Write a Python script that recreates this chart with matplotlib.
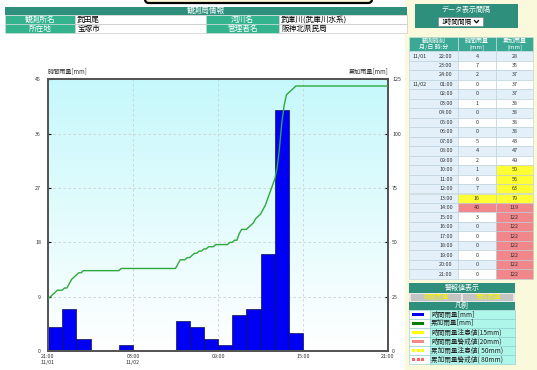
import numpy as np
import matplotlib
matplotlib.use('Agg')
import matplotlib.pyplot as plt
from matplotlib.patches import Rectangle, FancyBboxPatch
from matplotlib.colors import to_rgb

plt.rcParams['font.family'] = ['Noto Sans CJK JP', 'DejaVu Sans']

# 観測局情報
station = '武田尾'
place = '宝塚市'
river = '武庫川(武庫川水系)'
manager = '阪神北県民局'

# 1時間毎の観測値 (11/01 22:00 ～ 11/02 21:00)
times = ['22:00', '23:00', '24:00', '01:00', '02:00', '03:00', '04:00', '05:00',
         '06:00', '07:00', '08:00', '09:00', '10:00', '11:00', '12:00', '13:00',
         '14:00', '15:00', '16:00', '17:00', '18:00', '19:00', '20:00', '21:00']
dates = {0: '11/01', 3: '11/02'}
hourly = [4, 7, 2, 0, 0, 1, 0, 0, 0, 5, 4, 2, 1, 6, 7, 16, 40, 3, 0, 0, 0, 0, 0, 0]
cumul = [28, 35, 37, 37, 37, 38, 38, 38, 38, 43, 47, 49, 50, 56, 63, 79, 119,
         122, 122, 122, 122, 122, 122, 122]

# 10分毎の累加雨量 (11/01 21:00 ～ 11/02 21:00)
cum10 = [
    24, 25, 26, 27, 28, 28,        # 21時台
    28, 29, 29, 31, 33, 34,        # 22時台
    35, 36, 36, 37, 37, 37,        # 23時台
    37, 37, 37, 37, 37, 37,        # 00時台
    37, 37, 37, 37, 37, 37,        # 01時台
    37, 38, 38, 38, 38, 38,        # 02時台
    38, 38, 38, 38, 38, 38,        # 03時台
    38, 38, 38, 38, 38, 38,        # 04時台
    38, 38, 38, 38, 38, 38,        # 05時台
    38, 40, 42, 42, 42, 43,        # 06時台
    43, 44, 45, 45, 46, 46,        # 07時台
    47, 47, 48, 48, 48, 49,        # 08時台
    49, 49, 49, 49, 49, 50,        # 09時台
    50, 51, 51, 54, 56, 56,        # 10時台
    56, 57, 58, 59, 61, 62,        # 11時台
    63, 65, 67, 70, 73, 76,        # 12時台
    79, 84, 93, 105, 113, 118,     # 13時台
    119, 120, 121, 122, 122, 122,  # 14時台
    122, 122, 122, 122, 122, 122,  # 15時台
    122, 122, 122, 122, 122, 122,  # 16時台
    122, 122, 122, 122, 122, 122,  # 17時台
    122, 122, 122, 122, 122, 122,  # 18時台
    122, 122, 122, 122, 122, 122,  # 19時台
    122, 122, 122, 122, 122, 122,  # 20時台
    122,                           # 21:00
]

hour_warn = (15, 20)
cum_warn = (50, 80)
xtick_labels = ['21:00\n11/01', '03:00\n11/02', '09:00', '15:00', '21:00']
legend_items = ['時間雨量[mm]', '累加雨量[mm]', '時間雨量注意値(15mm)',
                '時間雨量警戒値(20mm)', '累加雨量注意値( 50mm)', '累加雨量警戒値( 80mm)']

W, H = 537, 370
TEAL_D = '#2f8f7d'
TEAL_L = '#33b48f'
TEAL_T = '#3aa894'
ROW_BLUE = '#e3f0f9'
YEL = '#ffff33'
PINK = '#f2878b'

fig = plt.figure(figsize=(W / 100, H / 100), dpi=100)
fig.patch.set_facecolor('white')

bg = fig.add_axes([0, 0, 1, 1], zorder=0)
bg.set_xlim(0, W)
bg.set_ylim(H, 0)
bg.axis('off')


def cell(x0, y0, x1, y1, fc, text='', color='white', size=5.0, ha='center',
         ec='none', lw=0.4, pad=2):
    bg.add_patch(Rectangle((x0, y0), x1 - x0, y1 - y0, facecolor=fc,
                           edgecolor=ec, linewidth=lw))
    if text:
        tx = {'center': (x0 + x1) / 2, 'left': x0 + pad, 'right': x1 - pad}[ha]
        bg.text(tx, (y0 + y1) / 2, text, ha=ha, va='center', color=color,
                fontsize=size, linespacing=1.0)


# 右側パネル
bg.add_patch(Rectangle((405, 0), W - 405, H, facecolor='#fbf9dc', edgecolor='none'))
bg.add_patch(FancyBboxPatch((145, -12), 227, 15, boxstyle='round,pad=0,rounding_size=4',
                            facecolor='#fbf6d6', edgecolor='black', linewidth=1.6))

# 観測局情報テーブル
cell(5, 7, 407, 15, TEAL_D, '観測局情報', size=5.5)
cell(5, 15, 75, 24, TEAL_L, '観測所名', size=5.5, ec='#dddddd')
cell(75, 15, 206, 24, 'white', station, color='black', size=5.5, ha='left', ec='#bbbbbb')
cell(206, 15, 279, 24, TEAL_L, '河川名', size=5.5, ec='#dddddd')
cell(279, 15, 407, 24, 'white', river, color='black', size=5.5, ha='left', ec='#bbbbbb')
cell(5, 24, 75, 33, TEAL_L, '所在地', size=5.5, ec='#dddddd')
cell(75, 24, 206, 33, 'white', place, color='black', size=5.5, ha='left', ec='#bbbbbb')
cell(206, 24, 279, 33, TEAL_L, '管理者名', size=5.5, ec='#dddddd')
cell(279, 24, 407, 33, 'white', manager, color='black', size=5.5, ha='left', ec='#bbbbbb')

# データ表示間隔
cell(415, 4, 518, 28, TEAL_D)
bg.text(466, 10, 'データ表示間隔', ha='center', va='center', color='white', fontsize=5)
cell(438, 17, 483, 26, 'white', '1時間間隔', color='black', size=4.8, ha='left', ec='#777777', pad=3)
bg.plot([474.5, 476.5, 478.5], [20.5, 22.8, 20.5], color='black', lw=0.9)

# 観測値テーブル
cols = [409, 458, 496, 533]
ty0, ty1, rh = 37, 51.3, 9.48
cell(cols[0], ty0, cols[1], ty1, TEAL_T, '観測時刻\n月/日 時:分', size=4.3, ec='#cfe3e0')
cell(cols[1], ty0, cols[2], ty1, TEAL_T, '時間雨量\n[mm]', size=4.3, ec='#cfe3e0')
cell(cols[2], ty0, cols[3], ty1, TEAL_T, '累加雨量\n[mm]', size=4.3, ec='#cfe3e0')
for i, t in enumerate(times):
    y0 = ty1 + i * rh
    y1 = y0 + rh
    alt = ROW_BLUE if i % 2 == 0 else 'white'
    cell(cols[0], y0, cols[1], y1, ROW_BLUE, ec='#b8cfdc')
    if i in dates:
        bg.text(413, (y0 + y1) / 2, dates[i], ha='left', va='center', fontsize=3.9, color='#333333')
    bg.text(446, (y0 + y1) / 2, t, ha='center', va='center', fontsize=3.9, color='#333333')
    h = hourly[i]
    hc = PINK if h >= hour_warn[1] else (YEL if h >= hour_warn[0] else alt)
    cell(cols[1], y0, cols[2], y1, hc, str(h), color='#333333', size=3.9, ec='#b8cfdc')
    c = cumul[i]
    cc = PINK if c >= cum_warn[1] else (YEL if c >= cum_warn[0] else alt)
    cell(cols[2], y0, cols[3], y1, cc, str(c), color='#333333', size=3.9, ec='#b8cfdc')

# 警報値表示・凡例
cell(409, 283, 515, 293, TEAL_D, '警報値表示', size=5)
cell(409, 293, 515, 302, '#e8e8e8')
cell(411, 294, 461, 301, '#c4c4c4', '時間雨量', color='#f2f200', size=4.6)
cell(463, 294, 513, 301, '#c4c4c4', '累加雨量', color='#f2f200', size=4.6)
cell(409, 302, 515, 310, TEAL_D, '凡例', size=5)
icon_colors = ['#0000ee', '#008000', '#ffff00', '#f28a8a', '#ffff00', '#ff6464']
for i, (lab, col) in enumerate(zip(legend_items, icon_colors)):
    y0 = 310 + i * 9
    cell(409, y0, 430, y0 + 9, 'white', ec='#88cccc')
    cell(430, y0, 515, y0 + 9, '#aef5ea', lab, color='#222222', size=4.8, ha='left', ec='#88cccc', pad=1)
    if i < 4:
        bg.add_patch(Rectangle((412, y0 + 3), 12, 3, facecolor=col, edgecolor='none'))
    else:
        for k in range(3):
            bg.add_patch(Rectangle((412 + k * 4.5, y0 + 3), 3, 3, facecolor=col, edgecolor='none'))

# グラフ
ax = fig.add_axes([48 / W, (H - 351) / H, 340 / W, (351 - 79.5) / H], zorder=1)
top = np.array(to_rgb('#c6f8fb'))
grad = np.linspace(1, 0, 256)[:, None, None] * top + np.linspace(0, 1, 256)[:, None, None] * np.ones(3)
ax.imshow(grad, extent=[0, 1, 0, 1], transform=ax.transAxes, aspect='auto', zorder=0)

hours = np.arange(len(hourly)) + 0.5
ax.bar(hours, hourly, width=1.0, color='#0000f5', edgecolor='#101050', linewidth=0.5, zorder=2)
ax.set_xlim(0, 24)
ax.set_ylim(0, 45)
ax.set_yticks([0, 9, 18, 27, 36, 45])
ax.set_xticks([0, 6, 12, 18, 24])
ax.set_xticklabels(xtick_labels)
for v in [9, 18, 27, 36]:
    ax.axhline(v, color='#cfcfcf', lw=0.6, ls=(0, (3, 3)), zorder=1)
for v in [6, 12, 18]:
    ax.axvline(v, color='#cfcfcf', lw=0.6, ls=(0, (3, 3)), zorder=1)
ax.tick_params(axis='y', direction='in', length=2.5, width=0.8, labelsize=3.8,
               labelcolor='#333333', pad=5)
ax.tick_params(axis='x', length=0, labelsize=3.9, labelcolor='#333333', pad=2)

ax2 = ax.twinx()
t10 = np.arange(len(cum10)) / 6
ax2.plot(t10, cum10, color='#2fa83c', lw=1.0, zorder=3)
ax2.set_ylim(0, 125)
ax2.set_yticks([0, 25, 50, 75, 100, 125])
ax2.tick_params(axis='y', direction='in', length=2.5, width=0.8, labelsize=3.8,
                labelcolor='#333333', pad=3)
for a in (ax, ax2):
    for s in a.spines.values():
        s.set_color('#555555')
        s.set_linewidth(1.4)

ax.text(0, 1.015, '時間雨量[mm]', transform=ax.transAxes, ha='left', va='bottom',
        fontsize=4.4, color='#333333')
ax.text(1, 1.015, '累加雨量[mm]', transform=ax.transAxes, ha='right', va='bottom',
        fontsize=4.4, color='#333333')

fig.savefig('out.png', dpi=100)
